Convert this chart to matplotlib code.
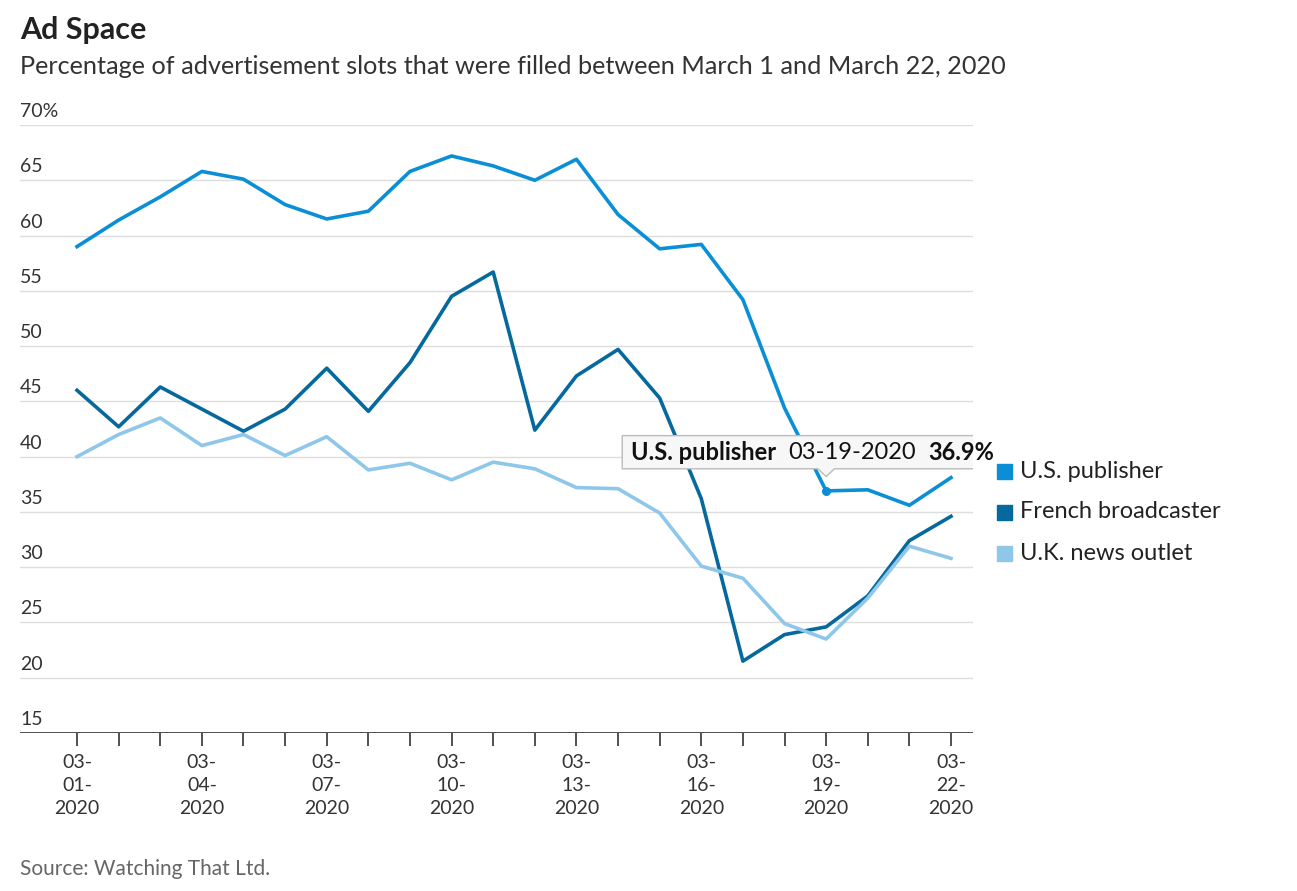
import matplotlib.pyplot as plt
from matplotlib.patches import Polygon

plt.rcParams['font.family'] = ['Lato', 'DejaVu Sans']

days = list(range(1, 23))
us_publisher = [59.0, 61.4, 63.5, 65.8, 65.1, 62.8, 61.5, 62.2, 65.8, 67.2, 66.3, 65.0,
                66.9, 61.9, 58.8, 59.2, 54.2, 44.4, 36.9, 37.0, 35.6, 38.1]
french_broadcaster = [46.0, 42.7, 46.3, 44.3, 42.3, 44.3, 48.0, 44.1, 48.5, 54.5, 56.7, 42.4,
                      47.3, 49.7, 45.3, 36.2, 21.5, 23.9, 24.6, 27.4, 32.4, 34.6]
uk_news_outlet = [40.0, 42.0, 43.5, 41.0, 42.0, 40.1, 41.8, 38.8, 39.4, 37.9, 39.5, 38.9,
                  37.2, 37.1, 34.9, 30.1, 29.0, 24.9, 23.5, 27.2, 31.9, 30.8]
y_ticks = [15, 20, 25, 30, 35, 40, 45, 50, 55, 60, 65, 70]

series = [("U.S. publisher", us_publisher, "#0a8fd6"),
          ("French broadcaster", french_broadcaster, "#06699d"),
          ("U.K. news outlet", uk_news_outlet, "#8ec7ea")]

fig = plt.figure(figsize=(12.97, 8.91), dpi=100)
ax = fig.add_axes([20 / 1297, 1 - 733 / 891, 953 / 1297, 608 / 891])
ax.set_xlim(1 - 57 / 41.6, 22 + 22 / 41.6)
ax.set_ylim(15, 70)

for v in y_ticks:
    ax.axhline(v, color="#dddddd", lw=1, zorder=0)
    label = f"{v}%" if v == 70 else str(v)
    ax.text(0, v + 0.45, label, transform=ax.get_yaxis_transform(),
            fontsize=14, color="#333333", va="bottom", ha="left")
ax.axhline(15, color="#333333", lw=1.2, zorder=1)

for name, vals, col in series:
    ax.plot(days, vals, color=col, lw=2.6, zorder=3)

for s in ax.spines.values():
    s.set_visible(False)
ax.set_yticks([])
ax.set_xticks(days)
ax.set_xticklabels([f"03-\n{d:02d}-\n2020" if (d - 1) % 3 == 0 else "" for d in days],
                   fontsize=14, color="#333333", linespacing=1.45)
ax.tick_params(axis="x", length=9, width=1.2, color="#333333", pad=6)

# tooltip at 03-19, pieces placed one after another
ax.scatter([19], [us_publisher[18]], s=30, color="#0a8fd6", zorder=5)
fig.canvas.draw()
r = fig.canvas.get_renderer()
x0 = 14.3
parts = [("U.S. publisher", "bold"), ("03-19-2020", "normal"), ("36.9%", "bold")]
x = x0
for txt, w in parts:
    t = ax.text(x, 40.4, txt, fontsize=17, fontweight=w, va="center", zorder=7,
                color="#111111")
    bb = t.get_window_extent(r).transformed(ax.transData.inverted())
    x = bb.x1 + 0.3
x1 = x - 0.3 + 0.15
box = Polygon([(14.1, 38.9), (18.8, 38.9), (19.0, 38.2), (19.2, 38.9), (x1, 38.9),
               (x1, 41.9), (14.1, 41.9)], closed=True, facecolor="#f7f7f7",
              edgecolor="#bbbbbb", lw=1, zorder=6)
ax.add_patch(box)

# legend
for i, (name, vals, col) in enumerate(series):
    y = 1 - (471 + 41 * i) / 891
    fig.patches.append(plt.Rectangle((997 / 1297, y - 0.009), 0.0115, 0.0165,
                                     transform=fig.transFigure, color=col))
    fig.text(1020 / 1297, y, name, fontsize=17, va="center", color="#222222")

fig.text(20 / 1297, 1 - 30 / 891, "Ad Space", fontsize=22, fontweight="bold",
         va="center", color="#222222")
fig.text(20 / 1297, 1 - 67 / 891,
         "Percentage of advertisement slots that were filled between March 1 and March 22, 2020",
         fontsize=18.2, va="center", color="#333333")
fig.text(20 / 1297, 1 - 869 / 891, "Source: Watching That Ltd.", fontsize=15,
         va="center", color="#666666")

fig.savefig("out.png", dpi=100)
